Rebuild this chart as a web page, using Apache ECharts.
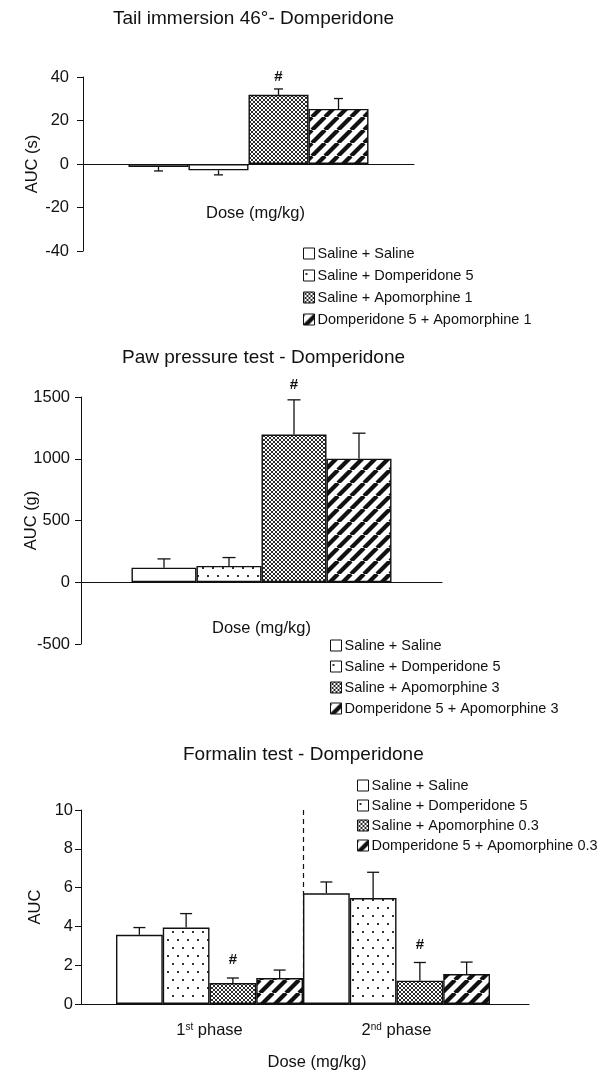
<!DOCTYPE html>
<html>
<head>
<meta charset="utf-8">
<style>
  body { margin: 0; background: #fff; }
  .chart { position: absolute; left: 0; width: 604px; }
</style>
<script src="https://cdn.jsdelivr.net/npm/echarts@6/dist/echarts.min.js"></script>
</head>
<body>
<div id="tail" class="chart" style="top:0;height:340px"></div>
<div id="paw" class="chart" style="top:340px;height:380px"></div>
<div id="formalin" class="chart" style="top:720px;height:353px"></div>
<script>
// ---- data ----
const tailGroups = ['Saline + Saline', 'Saline + Domperidone 5', 'Saline + Apomorphine 1', 'Domperidone 5 + Apomorphine 1'];
const tailMean = [-1.4, -2.9, 31.8, 25.3];
const tailSem = [1.8, 2.1, 2.7, 4.8];
const tailSig = [0, 0, 1, 0];
const tailTicks = [-40, 40, 20]; // min, max, step

const pawGroups = ['Saline + Saline', 'Saline + Domperidone 5', 'Saline + Apomorphine 3', 'Domperidone 5 + Apomorphine 3'];
const pawMean = [118, 132, 1196, 1001];
const pawSem = [71, 68, 281, 206];
const pawSig = [0, 0, 1, 0];
const pawTicks = [-500, 1500, 500];

const formPhases = ['1st phase', '2nd phase'];
const formGroups = ['Saline + Saline', 'Saline + Domperidone 5', 'Saline + Apomorphine 0.3', 'Domperidone 5 + Apomorphine 0.3'];
const formSaline = [3.57, 5.71];
const formSalineSem = [0.37, 0.58];
const formDomp = [3.94, 5.46];
const formDompSem = [0.72, 1.33];
const formApo = [1.08, 1.20];
const formApoSem = [0.26, 0.94];
const formDompApo = [1.34, 1.54];
const formDompApoSem = [0.41, 0.62];
const formSig = [[0, 0], [0, 0], [1, 1], [0, 0]];
const formTicks = [0, 10, 2];

const FONT = '"Liberation Sans", Arial, Helvetica, sans-serif';
const INK = '#111';

// fill patterns: plain, dots, fine cross-hatch, thick diagonal stripes
function makePattern(kind) {
  if (kind === 'plain') return '#ffffff';
  const c = document.createElement('canvas');
  let ctx;
  if (kind === 'dots') {
    c.width = 10; c.height = 16;
    ctx = c.getContext('2d');
    ctx.fillStyle = '#fff'; ctx.fillRect(0, 0, 10, 16);
    ctx.fillStyle = '#333';
    ctx.fillRect(2, 3, 2, 2);
    ctx.fillRect(7, 11, 2, 2);
  } else if (kind === 'cross') {
    c.width = 4; c.height = 4;
    ctx = c.getContext('2d');
    ctx.fillStyle = '#fff'; ctx.fillRect(0, 0, 4, 4);
    ctx.fillStyle = '#2a2a2a';
    for (let i = 0; i < 4; i++) {
      ctx.fillRect(i, i, 1, 1);
      ctx.fillRect(3 - i, i, 1, 1);
    }
  } else {
    const s = 13;
    c.width = s; c.height = s;
    ctx = c.getContext('2d');
    ctx.fillStyle = '#fff'; ctx.fillRect(0, 0, s, s);
    ctx.strokeStyle = INK; ctx.lineWidth = 4.2;
    for (const o of [-s, 0, s]) {
      ctx.beginPath(); ctx.moveTo(o, s); ctx.lineTo(o + s, 0); ctx.stroke();
    }
  }
  return { image: c, repeat: 'repeat' };
}
const fills = ['plain', 'dots', 'cross', 'hatch'].map(makePattern);

// one-sided error bars (+ '#' marks) drawn on top of grouped bars
function errorSeries(items, nBars, barW, cap, sigGap, extra) {
  return Object.assign({
    type: 'custom',
    silent: true,
    z: 5,
    encode: { x: 0, y: 2 },
    data: items,
    renderItem: function (params, api) {
      const cat = api.value(0), k = api.value(1), m = api.value(2), s = api.value(3), flag = api.value(4);
      const bw = barW || api.size([1, 0])[0] / nBars;
      const x = api.coord([cat, 0])[0] + (k - (nBars - 1) / 2) * bw;
      const end = m >= 0 ? m + s : m - s;
      const y0 = api.coord([cat, m])[1];
      const y1 = api.coord([cat, end])[1];
      const st = { stroke: INK, lineWidth: 1.3 };
      const kids = [
        { type: 'line', shape: { x1: x, y1: y0, x2: x, y2: y1 }, style: st },
        { type: 'line', shape: { x1: x - cap / 2, y1: y1, x2: x + cap / 2, y2: y1 }, style: st }
      ];
      if (flag) {
        kids.push({ type: 'text', x: x, y: y1 - sigGap, style: {
          text: '#', fontSize: 15, fontWeight: 'bold', fontFamily: FONT, fill: INK,
          align: 'center', verticalAlign: 'middle' } });
      }
      return { type: 'group', children: kids };
    }
  }, extra || {});
}

function legendOpt(names, left, top, gap) {
  return {
    data: names, orient: 'vertical', left: left, top: top, padding: 0,
    itemWidth: 11, itemHeight: 11, itemGap: gap, icon: 'rect',
    itemStyle: { borderColor: INK, borderWidth: 1 },
    textStyle: { fontSize: 14.5, color: INK, fontFamily: FONT, lineHeight: 14, padding: [0, 0, 0, -2] },
    selectedMode: false
  };
}

function yAxisOpt(ticks, name, nameGap, margin, extra) {
  return Object.assign({
    type: 'value', min: ticks[0], max: ticks[1], interval: ticks[2],
    name: name, nameLocation: 'middle', nameGap: nameGap, nameMoveOverlap: false,
    nameTextStyle: { fontSize: 16.5, color: INK, fontFamily: FONT },
    axisLine: { show: true, lineStyle: { color: INK, width: 1 } },
    axisTick: { show: true, length: 6, lineStyle: { color: INK, width: 1 } },
    axisLabel: { fontSize: 16.5, color: INK, fontFamily: FONT, margin: margin, formatter: v => String(v) },
    splitLine: { show: false }
  }, extra || {});
}

function singleGroupOption(cfg) {
  const n = cfg.groups.length;
  const bars = cfg.groups.map((g, i) => ({
    type: 'bar', name: g, data: [cfg.mean[i]],
    barWidth: cfg.barW, barGap: '0%',
    itemStyle: { color: fills[i], borderColor: INK, borderWidth: 1.4 }
  }));
  const errs = cfg.mean.map((m, i) => [0, i, m, cfg.sem[i], cfg.sig[i]]);
  return {
    animation: false,
    textStyle: { fontFamily: FONT, color: INK },
    title: {
      text: cfg.title, left: cfg.titleLeft, top: cfg.titleTop, padding: 0,
      textStyle: { fontSize: 19, fontWeight: 'normal', color: INK, fontFamily: FONT }
    },
    legend: legendOpt(cfg.groups, cfg.legend[0], cfg.legend[1], cfg.legend[2]),
    grid: Object.assign({ outerBoundsMode: 'none' }, cfg.grid),
    xAxis: {
      type: 'category', data: [''],
      name: 'Dose (mg/kg)', nameLocation: 'middle', nameGap: cfg.xNameGap, nameMoveOverlap: false,
      nameTextStyle: { fontSize: 16.5, color: INK, fontFamily: FONT, padding: cfg.xNamePad },
      axisLine: { onZero: true, lineStyle: { color: INK, width: 1 } },
      axisTick: { show: false }, axisLabel: { show: false }, splitLine: { show: false }
    },
    yAxis: yAxisOpt(cfg.ticks, cfg.yName, cfg.yNameGap, cfg.labelMargin),
    series: bars.concat([errorSeries(errs, n, cfg.barW, cfg.cap, cfg.sigGap)])
  };
}

const tailChart = echarts.init(document.getElementById('tail'));
tailChart.setOption(singleGroupOption({
  title: 'Tail immersion 46°- Domperidone', titleLeft: 113, titleTop: 9,
  groups: tailGroups, mean: tailMean, sem: tailSem, sig: tailSig, ticks: tailTicks,
  yName: 'AUC (s)', yNameGap: 42, labelMargin: 14,
  grid: { left: 83, right: 190, top: 77, bottom: 89 },
  barW: 60, cap: 9, sigGap: 12,
  xNameGap: -46, xNamePad: [0, 0, 0, 14],
  legend: [303, 246, 7]
}));

const pawChart = echarts.init(document.getElementById('paw'));
pawChart.setOption(singleGroupOption({
  title: 'Paw pressure test - Domperidone', titleLeft: 122, titleTop: 8,
  groups: pawGroups, mean: pawMean, sem: pawSem, sig: pawSig, ticks: pawTicks,
  yName: 'AUC (g)', yNameGap: 41, labelMargin: 11,
  grid: { left: 81, right: 162, top: 57, bottom: 76 },
  barW: 65, cap: 13, sigGap: 15,
  xNameGap: -24, xNamePad: [0, 0, 0, 0],
  legend: [330, 298, 6]
}));

// formalin: bars fill their bands; a second, wider grid carries the long x axis line and name
const formSeries = [formSaline, formDomp, formApo, formDompApo];
const formSems = [formSalineSem, formDompSem, formApoSem, formDompApoSem];
const formErrItems = [];
formSeries.forEach((vals, k) => vals.forEach((v, c) => formErrItems.push([c, k, v, formSems[k][c], formSig[k][c]])));

const supRich = { sup: { fontSize: 10, verticalAlign: 'top', lineHeight: 12, color: INK, fontFamily: FONT } };
const formChart = echarts.init(document.getElementById('formalin'));
formChart.setOption({
  animation: false,
  textStyle: { fontFamily: FONT, color: INK },
  title: {
    text: 'Formalin test - Domperidone', left: 183, top: 25, padding: 0,
    textStyle: { fontSize: 19, fontWeight: 'normal', color: INK, fontFamily: FONT }
  },
  legend: legendOpt(formGroups, 357, 58, 5),
  grid: [
    { left: 116, right: 114, top: 90, bottom: 69, outerBoundsMode: 'none' },
    { left: 81, right: 75, top: 90, bottom: 69, outerBoundsMode: 'none' }
  ],
  xAxis: [
    {
      type: 'category', data: formPhases, gridIndex: 0,
      axisLine: { lineStyle: { color: INK, width: 1 } },
      axisTick: { show: false },
      axisLabel: {
        fontSize: 16.5, color: INK, fontFamily: FONT, margin: 18,
        formatter: v => v.replace(/^(\d)(st|nd|rd|th)/, '$1{sup|$2}'),
        rich: supRich
      },
      splitLine: { show: true, showMinLine: false, showMaxLine: false,
        lineStyle: { color: INK, width: 1.2, type: [5, 4] } }
    },
    {
      type: 'category', data: [''], gridIndex: 1,
      name: 'Dose (mg/kg)', nameLocation: 'middle', nameGap: 50, nameMoveOverlap: false,
      nameTextStyle: { fontSize: 16.5, color: INK, fontFamily: FONT, padding: [0, 0, 0, 24] },
      axisLine: { lineStyle: { color: INK, width: 1 } },
      axisTick: { show: false }, axisLabel: { show: false }, splitLine: { show: false }
    }
  ],
  yAxis: [
    yAxisOpt(formTicks, 'AUC', 37, 8, { gridIndex: 0, offset: 35 }),
    { type: 'value', gridIndex: 1, min: formTicks[0], max: formTicks[1], show: false }
  ],
  series: formGroups.map((g, k) => ({
    type: 'bar', name: g, data: formSeries[k],
    barWidth: '25%', barGap: '0%', barCategoryGap: '0%',
    itemStyle: { color: fills[k], borderColor: INK, borderWidth: 1.4 }
  })).concat([errorSeries(formErrItems, 4, 0, 12, 18)])
});
</script>
</body>
</html>
